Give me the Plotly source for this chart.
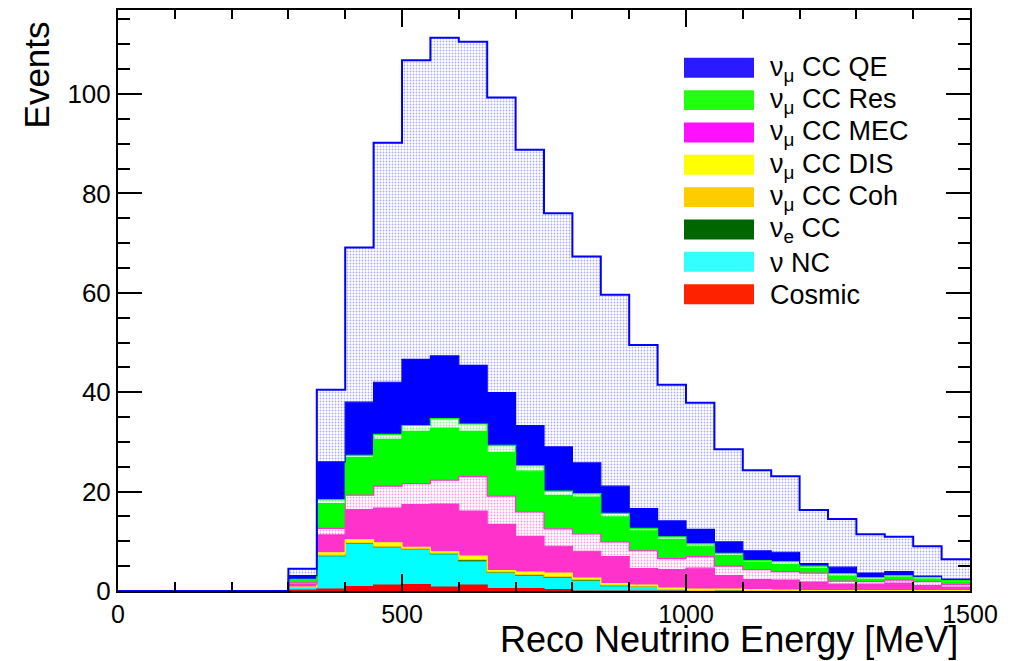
import plotly.graph_objects as go

# ---------------- data (50 MeV bins, lower edges 0..1450) ----------------
bin_lo = [0, 50, 100, 150, 200, 250, 300, 350, 400, 450, 500, 550, 600, 650, 700,
          750, 800, 850, 900, 950, 1000, 1050, 1100, 1150, 1200, 1250, 1300, 1350, 1400, 1450]
bin_w = 50

z6 = [0, 0, 0, 0, 0, 0]
cosmic = z6 + [0.2, 0.4, 0.9, 1.2, 1.3, 0.8, 1.2, 0.5, 0.5, 0.3, 0, 0, 0, 0, 0, 0, 0, 0, 0, 0, 0, 0, 0, 0]
nu_nc = z6 + [0.6, 6.6, 8.6, 7.6, 7.1, 6.6, 4.8, 3.2, 2.6, 2.4, 2.1, 1.1, 1.0, 0.3, 0.1, 0.2, 0, 0, 0, 0, 0, 0, 0, 0]
nue_cc = z6 + [0, 0.1, 0.1, 0.1, 0.1, 0.1, 0.1, 0.1, 0.1, 0.1, 0.1, 0, 0, 0, 0, 0, 0, 0, 0, 0, 0, 0, 0, 0]
numu_coh = z6 + [0, 0.1, 0.1, 0.1, 0.05, 0.1, 0.2, 0.05, 0.1, 0.1, 0.1, 0.1, 0, 0, 0, 0, 0, 0, 0, 0, 0, 0, 0, 0]
numu_dis = z6 + [0, 0.5, 0.6, 0.7, 0.25, 0.3, 0.7, 0.25, 0.5, 0.7, 0.3, 0.3, 0.2, 0.3, 0.3, 0.2, 0.3, 0.2, 0.1, 0.1, 0.1, 0.1, 0.1, 0.1]
numu_mec = z6 + [0.6, 3.6, 6.1, 7.0, 8.6, 9.6, 9.1, 9.3, 7.2, 5.4, 5.4, 5.4, 3.3, 3.7, 4.2, 2.7, 2.0, 2.0, 1.7, 1.3, 1.3, 1.5, 1.0, 0.7]
numu_mec_dot = z6 + [0.25, 1.3, 2.9, 4.4, 4.2, 4.8, 6.9, 5.7, 4.9, 3.5, 3.5, 3.0, 3.6, 2.2, 2.3, 1.9, 2.0, 1.7, 1.8, 0.6, 0.5, 0.6, 0.8, 0.5]
numu_res = z6 + [0.55, 5.0, 7.6, 9.4, 10.5, 10.5, 9.1, 8.8, 8.2, 6.7, 7.4, 5.0, 4.0, 3.9, 2.1, 2.1, 1.4, 1.4, 0.9, 1.0, 0.4, 0.6, 0.5, 0.5]
numu_res_dot = z6 + [0.15, 0.8, 0.4, 1.0, 1.2, 1.9, 1.5, 1.4, 1.1, 0.9, 0.7, 0.7, 0.5, 0.5, 0.5, 0.5, 0.4, 0.6, 0.5, 0.5, 0.4, 0.3, 0.4, 0.3]
numu_qe = z6 + [0.75, 7.6, 10.7, 10.5, 13.3, 12.6, 11.8, 10.6, 8.1, 8.9, 6.2, 5.5, 4.0, 3.2, 2.9, 2.3, 2.0, 1.9, 0.5, 1.3, 0.9, 0.8, 0.2, 0.3]
numu_qe_dot = z6 + [1.4, 14.5, 31.1, 48.2, 60.2, 64.0, 65.1, 59.4, 55.5, 47.0, 41.5, 38.5, 32.9, 27.4, 25.5, 18.6, 16.2, 15.3, 10.8, 9.7, 7.8, 7.0, 6.0, 4.0]

x_ticks = [0, 500, 1000, 1500]
y_ticks = [0, 20, 40, 60, 80, 100]

# legend entries (top to bottom)
leg_labels = ["ν<sub>μ</sub> CC QE", "ν<sub>μ</sub> CC Res", "ν<sub>μ</sub> CC MEC",
              "ν<sub>μ</sub> CC DIS", "ν<sub>μ</sub> CC Coh", "ν<sub>e</sub> CC",
              "ν NC", "Cosmic"]
leg_colors = ["#2a1aff", "#22ff11", "#ff11ff", "#ffff00", "#ffcc00", "#006600",
              "#33ffff", "#ff2200"]

# stack, bottom to top: (values, color, dotted?)
layers = [
    (cosmic, "#ff0000", False),
    (nu_nc, "#00ffff", False),
    (nue_cc, "#006600", False),
    (numu_coh, "#ffcc00", False),
    (numu_dis, "#ffff00", False),
    (numu_mec, "#ff33cc", False),
    (numu_mec_dot, "#ff33cc", True),
    (numu_res, "#00ff00", False),
    (numu_res_dot, "#00ff00", True),
    (numu_qe, "#0000ff", False),
    (numu_qe_dot, "#0000ff", True),
]

edges = bin_lo + [bin_lo[-1] + bin_w]

fig = go.Figure()
for i, (vals, col, dotted) in enumerate(layers):
    y = list(vals) + [vals[-1]]
    kw = dict(x=edges, y=y, mode="lines", stackgroup="s", line_shape="hv",
              line=dict(color=col, width=2 if i == len(layers) - 1 else 1.2),
              showlegend=False, hoverinfo="skip")
    if dotted:
        kw["fillcolor"] = "white"
        kw["fillpattern"] = dict(shape=".", fgcolor="#5a5aff" if col == "#0000ff" else col,
                                 bgcolor="white", size=3, solidity=0.3)
    else:
        kw["fillcolor"] = col
    fig.add_trace(go.Scatter(**kw))

# ---------------- geometry helpers ----------------
W, H = 1025, 661
L, R, T, B = 118, 55, 8, 70
pw, ph = W - L - R, H - T - B


def px(xp):
    return (xp - L) / pw


def py(yp):
    return (H - B - yp) / ph


font = "Liberation Sans, Arial, Helvetica, sans-serif"

# legend drawn as boxes + text
shapes = []
annotations = []
for k, (lab, col) in enumerate(zip(leg_labels, leg_colors)):
    top = 56 + k * 32.45
    shapes.append(dict(type="rect", xref="paper", yref="paper",
                       x0=px(684), x1=px(754), y0=py(top + 20), y1=py(top),
                       fillcolor=col, line=dict(width=0)))
    annotations.append(dict(text=lab, xref="paper", yref="paper", x=px(768),
                            y=py(top + 11), xanchor="left", yanchor="middle",
                            showarrow=False, font=dict(family=font, size=27, color="black")))

annotations.append(dict(text="Reco Neutrino Energy [MeV]", xref="paper", yref="paper",
                        x=px(960), y=py(617), xanchor="right", yanchor="top",
                        showarrow=False, font=dict(family=font, size=36, color="black")))
annotations.append(dict(text="Events", xref="paper", yref="paper", textangle=-90,
                        x=px(36), y=py(18), xanchor="center", yanchor="top",
                        showarrow=False, font=dict(family=font, size=35, color="black")))

fig.update_layout(
    width=W, height=H,
    margin=dict(l=L, r=R, t=T, b=B),
    paper_bgcolor="white", plot_bgcolor="white",
    shapes=shapes, annotations=annotations,
    font=dict(family=font, size=26, color="black"),
    showlegend=False,
)
fig.update_xaxes(range=[0, 1500], tickvals=x_ticks, ticks="inside", ticklen=17,
                 tickwidth=2, tickcolor="black", showline=True, linewidth=2,
                 linecolor="black", mirror="ticks", showgrid=False, zeroline=False,
                 minor=dict(dtick=100, ticks="inside", ticklen=9, tickwidth=1.5,
                            tickcolor="black", showgrid=False),
                 tickfont=dict(size=25))
fig.update_yaxes(range=[0, 116.9], tickvals=y_ticks, ticks="inside", ticklen=24,
                 tickwidth=2, tickcolor="black", showline=True, linewidth=2,
                 linecolor="black", mirror="ticks", showgrid=False, zeroline=False,
                 minor=dict(dtick=5, ticks="inside", ticklen=12, tickwidth=1.5,
                            tickcolor="black", showgrid=False),
                 tickfont=dict(size=26))

fig.write_html("out.html")
